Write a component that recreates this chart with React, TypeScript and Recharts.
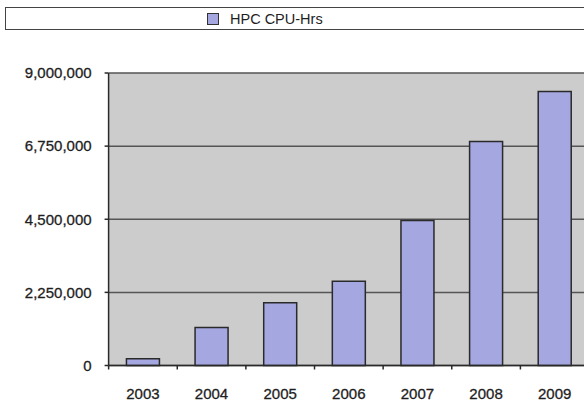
import { BarChart, Bar, XAxis, YAxis, CartesianGrid, Legend } from 'recharts';

const years = ['2003', '2004', '2005', '2006', '2007', '2008', '2009'];
const cpuHours = [210000, 1170000, 1930000, 2590000, 4460000, 6890000, 8430000];
const yTicks = [0, 2250000, 4500000, 6750000, 9000000];
const seriesName = 'HPC CPU-Hrs';

const data = years.map((year, i) => ({ year, hours: cpuHours[i] }));

const FONT = '"Liberation Sans", Arial, Helvetica, sans-serif';
const PLOT_W = 480;
const BAND = PLOT_W / years.length;
const BAR_FILL = '#a5a7e0';
const DARK = '#2a2a2a';
const TEXT = '#1e1e1e';

// category label plus a small tick mark on the boundary to its left
function YearTick({ x, y, payload }: { x: number; y: number; payload: { value: string } }) {
  const bx = x - BAND / 2;
  return (
    <g>
      <line x1={bx} x2={bx} y1={y} y2={y + 4} stroke={DARK} strokeWidth={1.5} />
      <text
        x={x}
        y={y + 33}
        textAnchor="middle"
        fontSize={15}
        fill={TEXT}
        stroke={TEXT}
        strokeWidth={0.3}
        fontFamily={FONT}
      >
        {payload.value}
      </text>
    </g>
  );
}

function LegendBox() {
  return (
    <div
      style={{
        boxSizing: 'border-box',
        width: '100%',
        height: 23,
        border: '1.5px solid #444',
        background: '#fff',
        display: 'flex',
        alignItems: 'center',
        paddingLeft: 201,
        fontFamily: FONT,
        fontSize: 14.5,
        color: TEXT,
      }}
    >
      <span
        style={{
          display: 'inline-block',
          width: 10,
          height: 10,
          background: BAR_FILL,
          border: '1px solid #333',
          marginRight: 11,
        }}
      />
      <span>{seriesName}</span>
    </div>
  );
}

export default function App() {
  return (
    <div
      style={{
        position: 'absolute',
        left: 0,
        top: 0,
        width: 584,
        height: 401,
        overflow: 'hidden',
        background: '#fff',
      }}
    >
      <BarChart
        width={584}
        height={401}
        data={data}
        margin={{ top: 73, right: -5, bottom: 0, left: 0 }}
        barCategoryGap="26%"
      >
        <CartesianGrid vertical={false} stroke="#555" strokeWidth={1.5} fill="#cccccc" />
        <XAxis
          dataKey="year"
          height={35.5}
          tickSize={0}
          tickMargin={0}
          axisLine={{ stroke: DARK, strokeWidth: 1.5 }}
          tick={(props: any) => <YearTick {...props} />}
          interval={0}
        />
        <YAxis
          width={108.6}
          domain={[0, 9000000]}
          ticks={yTicks}
          tickSize={4}
          tickMargin={13}
          axisLine={{ stroke: DARK, strokeWidth: 1.5 }}
          tickLine={{ stroke: DARK, strokeWidth: 1.5 }}
          tick={{ fontSize: 15, fill: TEXT, stroke: TEXT, strokeWidth: 0.3, fontFamily: FONT }}
          tickFormatter={(v: number) => v.toLocaleString('en-US')}
        />
        <Legend
          layout="horizontal"
          verticalAlign="middle"
          align="center"
          wrapperStyle={{ position: 'absolute', top: 7, left: 5, width: 640, height: 23 }}
          content={() => <LegendBox />}
        />
        <Bar
          dataKey="hours"
          name={seriesName}
          fill={BAR_FILL}
          stroke={DARK}
          strokeWidth={1.5}
          isAnimationActive={false}
        />
      </BarChart>
    </div>
  );
}
